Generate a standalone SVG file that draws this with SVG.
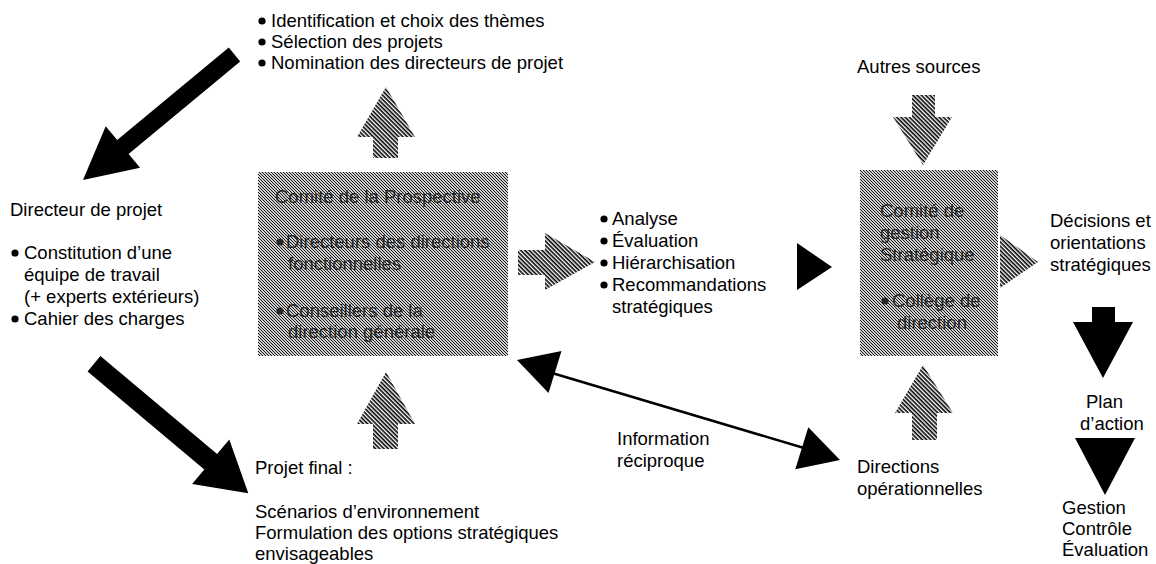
<svg xmlns="http://www.w3.org/2000/svg" width="1156" height="564" viewBox="0 0 1156 564">
<style>
text{font-family:"Liberation Sans",Arial,sans-serif;font-size:18.5px;fill:#000}
.bx text{fill:#262626}
.solid{fill:#000;stroke:none}
.hatch{fill:url(#stripes);stroke:none}
.box{fill:url(#dots);stroke:none}
.line{stroke:#000;stroke-width:2.5;fill:none}
</style>
<defs>
<pattern id="stripes" patternUnits="userSpaceOnUse" width="3" height="3" patternTransform="rotate(45)">
<rect width="3" height="3" fill="#fff"/>
<rect width="3" height="1.6" fill="#000"/>
</pattern>
<pattern id="dots" patternUnits="userSpaceOnUse" width="3" height="3">
<rect width="3" height="3" fill="#d0d0d0"/>
<path d="M0,0 L3,3 M-1,2 L1,4 M2,-1 L4,1" stroke="#000" stroke-width="0.9"/>
</pattern>
</defs>

<g id="top-list">
<circle cx="262" cy="21" r="3.6"/>
<text x="271" y="27">Identification et choix des thèmes</text>
<circle cx="262" cy="42" r="3.6"/>
<text x="271" y="48">Sélection des projets</text>
<circle cx="262" cy="63" r="3.6"/>
<text x="271" y="69">Nomination des directeurs de projet</text>
</g>

<g id="autres-sources">
<text x="857" y="73">Autres sources</text>
</g>

<g id="directeur-projet">
<text x="10" y="216">Directeur de projet</text>
<circle cx="15" cy="253" r="3.6"/>
<text x="24" y="259">Constitution d’une</text>
<text x="24" y="281">équipe de travail</text>
<text x="24" y="303">(+ experts extérieurs)</text>
<circle cx="15" cy="319" r="3.6"/>
<text x="24" y="325">Cahier des charges</text>
</g>

<g id="comite-prospective" class="bx">
<rect class="box" x="258" y="172" width="250" height="184"/>
<text x="275" y="203">Comité de la Prospective</text>
<circle cx="280" cy="242" r="3.6" fill="#262626"/>
<text x="286" y="248">Directeurs des directions</text>
<text x="288" y="270">fonctionnelles</text>
<circle cx="280" cy="311" r="3.6" fill="#262626"/>
<text x="286" y="317">Conseillers de la</text>
<text x="288" y="338">direction générale</text>
</g>

<g id="analyse-list">
<circle cx="604" cy="219" r="3.6"/>
<text x="612" y="225">Analyse</text>
<circle cx="604" cy="241" r="3.6"/>
<text x="612" y="247">Évaluation</text>
<circle cx="604" cy="263" r="3.6"/>
<text x="612" y="269">Hiérarchisation</text>
<circle cx="604" cy="285" r="3.6"/>
<text x="612" y="291">Recommandations</text>
<text x="612" y="313">stratégiques</text>
</g>

<g id="comite-gestion" class="bx">
<rect class="box" x="860" y="170" width="138" height="186"/>
<text x="880" y="217">Comité de</text>
<text x="880" y="239">gestion</text>
<text x="880" y="261">Stratégique</text>
<circle cx="885" cy="301" r="3.6" fill="#262626"/>
<text x="892" y="307">Collège de</text>
<text x="897" y="329">direction</text>
</g>

<g id="decisions">
<text x="1050" y="227">Décisions et</text>
<text x="1050" y="249">orientations</text>
<text x="1050" y="271">stratégiques</text>
</g>

<g id="plan-action">
<text x="1086" y="408">Plan</text>
<text x="1080" y="430">d’action</text>
</g>

<g id="gestion">
<text x="1062" y="514">Gestion</text>
<text x="1062" y="535">Contrôle</text>
<text x="1062" y="556">Évaluation</text>
</g>

<g id="projet-final">
<text x="255" y="474">Projet final :</text>
<text x="255" y="518">Scénarios d’environnement</text>
<text x="255" y="539">Formulation des options stratégiques</text>
<text x="255" y="560">envisageables</text>
</g>

<g id="information">
<text x="617" y="445">Information</text>
<text x="617" y="467">réciproque</text>
</g>

<g id="directions-op">
<text x="857" y="473">Directions</text>
<text x="857" y="495">opérationnelles</text>
</g>

<g id="connectors">
<polygon class="solid" points="228.8,47.6 240.2,61.4 128.6,153.9 140.1,167.8 83,180 105.7,126.2 117.2,140.1"/>
<polygon class="solid" points="100.4,356.1 217.1,454.1 229.3,439.6 248.3,493.3 192.1,484.0 204.3,469.5 87.6,371.5"/>
<polygon class="hatch" points="386,87 415,137 398,137 398,158 373,158 373,137 357,137"/>
<polygon class="hatch" points="386,372 415,424 398,424 398,449 373,449 373,424 357,424"/>
<polygon class="hatch" points="518,250 545,250 545,233 595,262 545,290 545,275 518,275"/>
<polygon class="solid" points="797,243 797,290 832,267"/>
<polygon class="hatch" points="912,95 935,95 935,117 952,117 923,165 893,117 912,117"/>
<polygon class="hatch" points="923,365 953,413 937,413 937,440 912,440 912,413 895,413"/>
<polygon class="hatch" points="1000,235 1038,262 1000,288"/>
<polygon class="solid" points="1092,307 1115,307 1115,322 1133,322 1103,378 1073,322 1092,322"/>
<polygon class="solid" points="1075,438 1135,438 1105,495"/>
<line class="line" x1="552" y1="373" x2="804" y2="448"/>
<polygon class="solid" points="517,360 561.5,351 548.5,393"/>
<polygon class="solid" points="840,460 808.3,427.2 795.3,469.2"/>
</g>
</svg>
